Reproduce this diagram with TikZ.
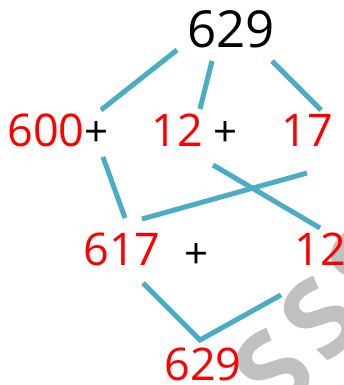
\documentclass[tikz,border=0pt]{standalone}
\usepackage{fontspec}
\setmainfont{Open Sans}
\definecolor{linkblue}{HTML}{4BACC6}
\definecolor{wmgray}{HTML}{C0C0C0}
\begin{document}
\begin{tikzpicture}[x=1pt,y=-1pt,
  num/.style={inner sep=0pt, text=red, font=\fontsize{45}{50}\selectfont},
  topnum/.style={inner sep=0pt, text=black, font=\fontsize{51}{56}\selectfont},
  plus/.style={inner sep=0pt, text=black, font=\fontsize{42}{46}\selectfont},
  link/.style={draw=linkblue, line width=5pt, line cap=butt},
  wmark/.style={inner sep=0pt, text=wmgray, rotate=45, font=\fontsize{108}{110}\selectfont\bfseries}]
\useasboundingbox (0,0) rectangle (344,385);
\fill[white] (0,0) rectangle (344,385);
% watermark
\begin{scope}
\clip (0,0) rectangle (344,385);
\node[wmark] (w1) at (273,370) {S};
\node[wmark] (w2) at (320,318) {S};
\node[wmark] (w3) at (367,266) {S};
\end{scope}
% texts
\node[topnum] (t629) at (231,29) {629};
\node[num] (n600) at (46,130) {600};
\node[plus] (p1) at (97,134) {+};
\node[num] (n12) at (177,130) {12};
\node[plus] (p2) at (226,134) {+};
\node[num] (n17) at (307,130) {17};
\node[num] (n617) at (122,249) {617};
\node[plus] (p3) at (197,256) {+};
\node[num] (m12) at (320,249) {12};
\node[num] (b629) at (203,364) {629};
% connector end points
\coordinate (a1) at (177,50);  \coordinate (a2) at (101,110);
\coordinate (b1) at (212,61);  \coordinate (b2) at (200,109);
\coordinate (c1) at (272,61);  \coordinate (c2) at (321,110);
\coordinate (d1) at (103,157); \coordinate (d2) at (125,218);
\coordinate (e1) at (307,173); \coordinate (e2) at (142,219);
\coordinate (f1) at (213,165); \coordinate (f2) at (320,228);
\coordinate (g1) at (143,283); \coordinate (g2) at (200,340); \coordinate (g3) at (281,295);
\draw[link] (a1) -- (a2);
\draw[link] (b1) -- (b2);
\draw[link] (c1) -- (c2);
\draw[link] (d1) -- (d2);
\draw[link] (e1) -- (e2);
\draw[link] (f1) -- (f2);
\draw[link] (g1) -- (g2) -- (g3);
\end{tikzpicture}
\end{document}
